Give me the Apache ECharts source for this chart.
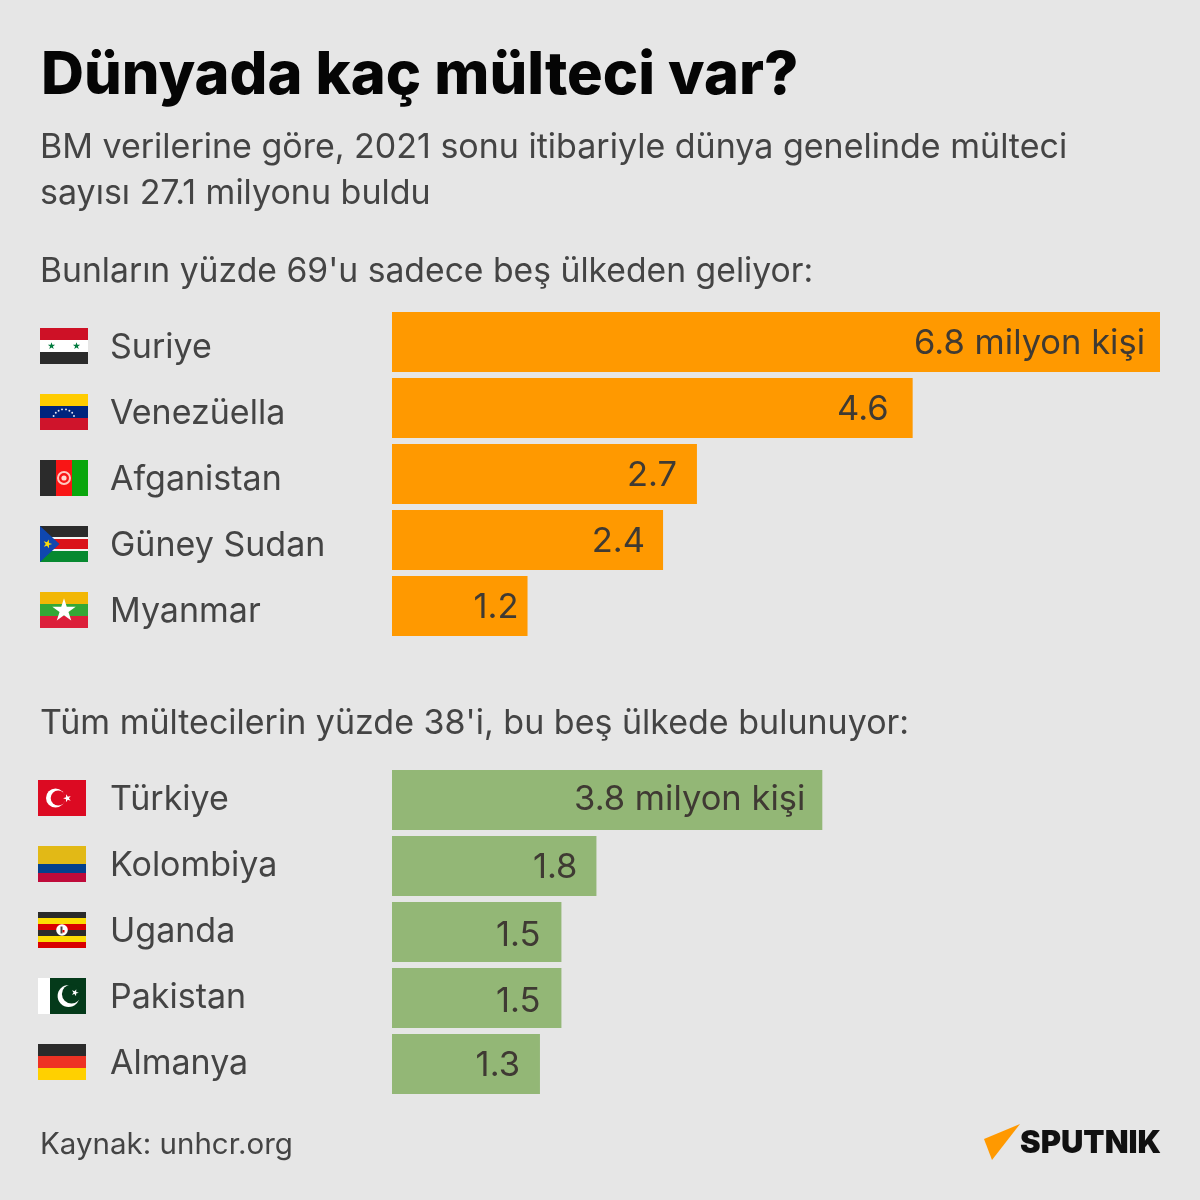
<!DOCTYPE html>
<html><head><meta charset="utf-8">
<style>html,body{margin:0;padding:0;background:#e6e6e6}#c{width:1200px;height:1200px}</style>
<script src="https://cdn.jsdelivr.net/npm/echarts@6/dist/echarts.min.js"></script>
</head><body><div id="c"></div>
<script>
const originCountries = ['Suriye','Venezüella','Afganistan','Güney Sudan','Myanmar'];
const originValues = [6.8,4.61,2.7,2.4,1.2];
const hostCountries = ['Türkiye','Kolombiya','Uganda','Pakistan','Almanya'];
const hostValues = [3.81,1.81,1.5,1.5,1.31];
const unitText = ' milyon kişi';

const FONT='Inter', DARK='#444444', LABEL='#3f3a33';
const originPad=[15,24,20,18,9], hostPad=[17,19,21,21,20];
const originNudge=[2,2,2,2,2], hostNudge=[0,2,4,4,2];

function star(cx,cy,R,rot){const r=R*0.382,p=[];for(let i=0;i<10;i++){const a=(rot||0)-Math.PI/2+i*Math.PI/5,q=i%2?r:R;p.push([cx+q*Math.cos(a),cy+q*Math.sin(a)]);}return p;}
const g=[];
function rect(x,y,w,h,fill){g.push({type:'rect',shape:{x,y,width:w,height:h},style:{fill},silent:true});}
function circ(cx,cy,r,fill,stroke,lw){g.push({type:'circle',shape:{cx,cy,r},style:{fill:fill||'transparent',stroke:stroke||null,lineWidth:lw||0},silent:true});}
function poly(points,fill){g.push({type:'polygon',shape:{points},style:{fill},silent:true});}
function hbands(x,y,w,cols,hs){let t=y;cols.forEach((c,i)=>{rect(x,t,w,hs[i],c);t+=hs[i];});}

hbands(40,328,48,['#ce1126','#ffffff','#2b2b2b'],[12,12,12]);
poly(star(51.5,346,3.8),'#007a3d');poly(star(76.5,346,3.8),'#007a3d');
hbands(40,394,48,['#ffcc00','#00247d','#cf142b'],[12,12,12]);
[[53.6,416],[55.8,412.8],[58.6,410.8],[62,409.4],[66,409.4],[69.4,410.8],[72.2,412.8],[74,416]].forEach(p=>circ(p[0],p[1],0.95,'#e8e8f4'));
hbands(40,460,48,['#2b2b2b'],[36]);rect(56,460,16,36,'#f91515');rect(72,460,16,36,'#0aa60d');
circ(64,478,6,null,'#ffc9c0',2);circ(64,478,2.6,'#ffd8d0');
hbands(40,526,48,['#2b2b2b','#f4f4f4','#da121a','#f4f4f4','#078930'],[11,2,10,2,11]);
poly([[40,526],[59.5,544],[40,562]],'#0f47af');poly(star(47.5,544,4.6,0.3),'#fcdd09');
hbands(40,592,48,['#f2b705','#34a836','#dc1f3a'],[12,12,12]);
poly(star(64,610.6,12.3),'#ffffff');
rect(38,780,48,36,'#dc0a22');
circ(55.5,798,9.5,'#ffffff');circ(58.2,798,7.5,'#dc0a22');poly(star(67.3,798.3,4.2,-0.3),'#ffffff');
hbands(38,846,48,['#e2b916','#04408c','#bf0a3a'],[18,9,9]);
hbands(38,912,48,['#2b2b2b','#fcdc04','#d90000','#2b2b2b','#fcdc04','#d90000'],[6,6,6,6,6,6]);
circ(62,930,5.8,'#ffffff');rect(60.5,926.5,2,7,'#444444');rect(62.5,930,2,2.5,'#d90000');
rect(38,978,12,36,'#ffffff');rect(50,978,36,36,'#043a1a');
circ(68.6,996,11,'#ffffff');circ(71.5,994,9.6,'#043a1a');poly(star(75,992.7,3.8,0.35),'#ffffff');
hbands(38,1044,48,['#2b2b2b','#ee3224','#ffd000'],[12,12,12]);
poly([[1020,1124],[984,1139],[992,1160]],'#ff9900');
g.push({type:'text',x:1020,y:1144,style:{text:'SPUTNIK',font:'900 31px "Inter"',fill:'#111111',textVerticalAlign:'middle'},silent:true});

function bars(names,values,pad,nudge,unit,color,gi){
  return {type:'bar',xAxisIndex:gi,yAxisIndex:gi,barWidth:60,silent:true,
    itemStyle:{color},
    data:values.map((v,i)=>({value:v,label:{
      position:'insideRight',distance:pad[i],offset:[0,nudge[i]],
      formatter:(i===0?v.toFixed(1)+unit:v.toFixed(1))}})),
    label:{show:true,color:LABEL,fontFamily:FONT,fontSize:34.5}};
}
const xA=gi=>({type:'value',gridIndex:gi,min:0,max:6.8,show:false});
const yA=(gi,names,extra)=>({type:'category',gridIndex:gi,inverse:true,data:names,
  axisLine:{show:false},axisTick:{show:false},
  axisLabel:Object.assign({align:'left',margin:282,color:DARK,fontFamily:FONT,fontSize:34},extra)});
const t=(text,left,top,size,weight,color)=>({text,left,top,padding:0,textStyle:{fontFamily:FONT,fontSize:size,fontWeight:weight,color,lineHeight:46}});

const option={
  animation:false,backgroundColor:'#e6e6e6',
  title:[
    {text:'Dünyada kaç mülteci var?',left:41,top:40,padding:0,textStyle:{fontFamily:FONT,fontSize:59.5,fontWeight:800,color:'#050505',lineHeight:72}},
    t('BM verilerine göre, 2021 sonu itibariyle dünya genelinde mülteci\nsayısı 27.1 milyonu buldu',40,125,34,400,DARK),
    t("Bunların yüzde 69'u sadece beş ülkeden geliyor:",40,249,33.7,400,DARK),
    t("Tüm mültecilerin yüzde 38'i, bu beş ülkede bulunuyor:",40,701,34,400,DARK),
    t('Kaynak: unhcr.org',40,1122,29.5,400,DARK)
  ],
  grid:[{left:392,top:309,width:768,height:330},{left:392,top:767,width:768,height:330}],
  xAxis:[xA(0),xA(1)],
  yAxis:[yA(0,originCountries,{verticalAlign:'top',lineHeight:12}),yA(1,hostCountries,{})],
  series:[
    bars(originCountries,originValues,originPad,originNudge,unitText,'#ff9900',0),
    bars(hostCountries,hostValues,hostPad,hostNudge,unitText,'#93b776',1)
  ],
  graphic:g
};
echarts.init(document.getElementById('c')).setOption(option);
</script></body></html>
